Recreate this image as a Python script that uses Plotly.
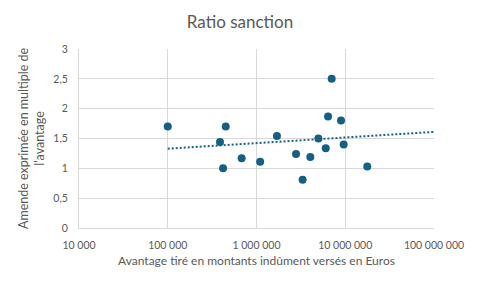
import plotly.graph_objects as go

# Data
avantage = [100000, 450000, 388000, 420000, 680000, 1100000, 1700000, 2790000,
            3310000, 4040000, 4980000, 6030000, 6400000, 7030000, 8960000,
            9600000, 17700000]
ratio = [1.70, 1.70, 1.44, 1.00, 1.17, 1.11, 1.54, 1.24, 0.81, 1.19, 1.50,
         1.335, 1.87, 2.50, 1.80, 1.40, 1.03]

# Logarithmic trendline endpoints (as shown in chart)
trend_x = [100000, 100000000]
trend_y = [1.33, 1.61]

x_tickvals = [1e4, 1e5, 1e6, 1e7, 1e8]
x_ticktext = ["10 000", "100 000", "1 000 000", "10 000 000", "100 000 000"]
y_tickvals = [0, 0.5, 1, 1.5, 2, 2.5, 3]
y_ticktext = ["0", "0,5", "1", "1,5", "2", "2,5", "3"]

color = "#156082"
text_color = "#595959"
grid = "#D9D9D9"
font_family = "Lato, 'Open Sans', sans-serif"

fig = go.Figure()
fig.add_trace(go.Scatter(
    x=trend_x, y=trend_y, mode="lines",
    line=dict(color=color, width=2, dash="2px,2px"),
    hoverinfo="skip", showlegend=False))
fig.add_trace(go.Scatter(
    x=avantage, y=ratio, mode="markers",
    marker=dict(color=color, size=8),
    showlegend=False))

fig.update_layout(
    width=480, height=288,
    margin=dict(l=79, r=46, t=49, b=60),
    paper_bgcolor="white", plot_bgcolor="white",
    font=dict(family=font_family, color=text_color, size=10),
    title=dict(text="Ratio sanction", x=0.5, xanchor="center",
               y=0.925, yanchor="middle",
               font=dict(size=17, color=text_color, family=font_family)),
    xaxis=dict(type="log", range=[4, 8], tickvals=x_tickvals,
               ticktext=x_ticktext, showgrid=True, gridcolor=grid,
               gridwidth=1, zeroline=False, showline=True, linecolor=grid,
               ticks="", ticklabelstandoff=7,
               tickfont=dict(size=10.5, color=text_color),
               title=dict(text="Avantage tiré en montants indûment versés en Euros",
                          font=dict(size=12, color=text_color), standoff=7)),
    yaxis=dict(range=[0, 3], tickvals=y_tickvals, ticktext=y_ticktext,
               showgrid=True, gridcolor=grid, gridwidth=1, zeroline=False,
               showline=True, linecolor=grid, ticks="", ticklabelstandoff=8,
               tickfont=dict(size=10.5, color=text_color),
               title=dict(text="Amende exprimée en multiple de<br>l'avantage",
                          font=dict(size=12.5, color=text_color), standoff=5)),
)

fig.write_html("out.html")
